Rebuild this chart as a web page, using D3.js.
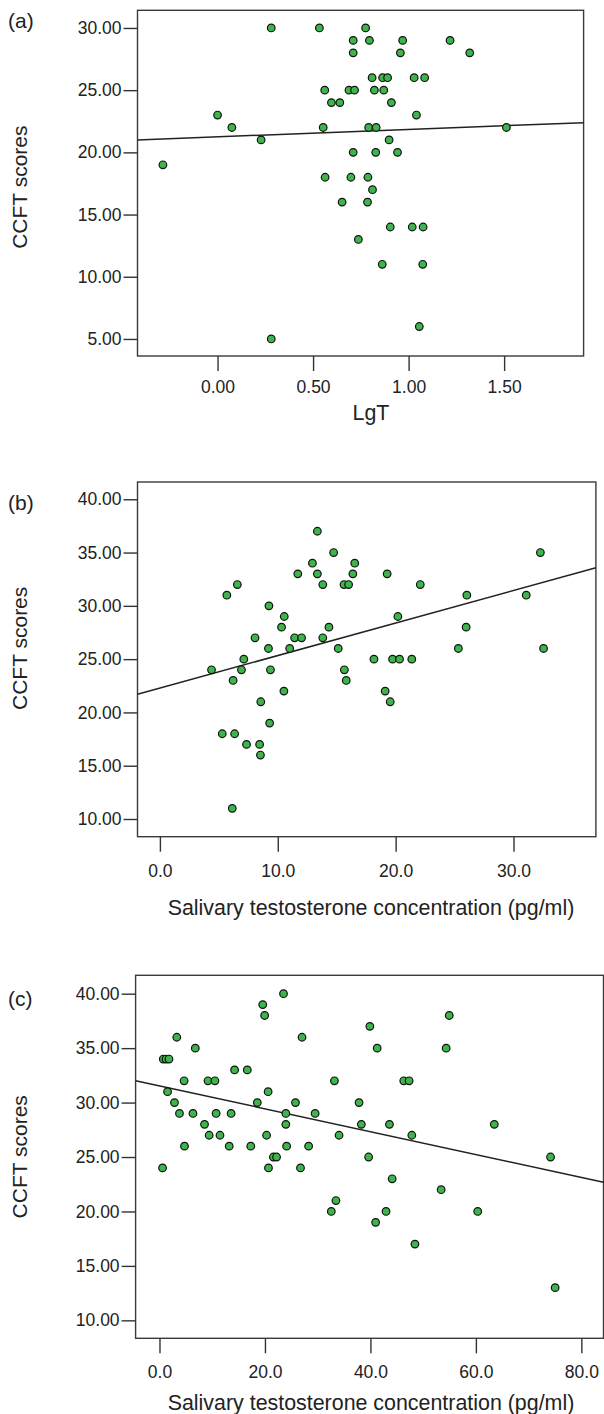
<!DOCTYPE html>
<html>
<head>
<meta charset="utf-8">
<script src="https://cdn.jsdelivr.net/npm/d3@7"></script>
<style>
  body { margin: 0; background: #fff; }
  svg { display: block; font-family: "Liberation Sans", Arial, sans-serif; }
</style>
</head>
<body>
<script>
// panel (a): LgT vs CCFT
var aX = [0.281, 0.533, 0.775, 0.710, 0.795, 0.969, 1.217, 0.710, 0.957, 1.320,
          0.809, 0.864, 0.890, 1.029, 1.084, 0.561, 0.688, 0.717, 0.821, 0.870,
          0.596, 0.640, 0.910, 0.000, 1.041, 0.075, 0.553, 0.791, 0.830, 1.512,
          0.228, 0.898, 0.710, 0.828, 0.942, -0.286, 0.563, 0.698, 0.787, 0.811,
          0.652, 0.785, 0.904, 1.019, 1.076, 0.737, 0.862, 1.074, 1.056, 0.281];
var aY = [30, 30, 30, 29, 29, 29, 29, 28, 28, 28,
          26, 26, 26, 26, 26, 25, 25, 25, 25, 25,
          24, 24, 24, 23, 23, 22, 22, 22, 22, 22,
          21, 21, 20, 20, 20, 19, 18, 18, 18, 17,
          16, 16, 14, 14, 14, 13, 11, 11, 6, 5];

// panel (b): salivary testosterone vs CCFT
var bX = [13.36, 14.74, 32.28, 12.94, 16.53, 11.70, 13.36, 16.37, 19.28, 6.57,
          13.82, 15.62, 16.01, 22.09, 5.68, 26.04, 31.08, 9.25, 10.55, 20.19,
          10.32, 14.34, 25.98, 8.07, 11.43, 12.02, 13.82, 9.21, 11.01, 15.13,
          25.32, 32.55, 7.12, 18.16, 19.74, 20.33, 21.37, 4.38, 6.92, 9.38,
          15.65, 6.21, 15.81, 10.52, 19.11, 8.56, 19.54, 9.31, 5.29, 6.34,
          7.35, 8.46, 8.53, 6.14];
var bY = [37, 35, 35, 34, 34, 33, 33, 33, 33, 32,
          32, 32, 32, 32, 31, 31, 31, 30, 29, 29,
          28, 28, 28, 27, 27, 27, 27, 26, 26, 26,
          26, 26, 25, 25, 25, 25, 25, 24, 24, 24,
          24, 23, 23, 22, 22, 21, 21, 19, 18, 18,
          17, 17, 16, 11];

// panel (c)
var cX = [23.52, 19.58, 19.94, 54.95, 39.89, 3.28, 27.03, 6.79, 41.28, 54.36,
          0.72, 1.25, 1.80, 14.24, 16.65, 4.67, 9.20, 10.51, 33.17, 46.32,
          47.34, 1.53, 20.60, 2.84, 18.55, 25.79, 37.84, 3.79, 6.35, 10.74,
          13.58, 23.96, 29.51, 8.54, 23.96, 38.28, 43.61, 63.49, 9.42, 11.47,
          20.31, 34.05, 47.85, 4.74, 13.22, 17.31, 24.11, 28.28, 21.6, 22.2,
          39.66, 74.16, 0.58, 20.67, 26.74, 44.12, 53.41, 33.46, 32.58, 42.96,
          60.35, 40.99, 48.44, 75.03];
var cY = [40, 39, 38, 38, 37, 36, 36, 35, 35, 35,
          34, 34, 34, 33, 33, 32, 32, 32, 32, 32,
          32, 31, 31, 30, 30, 30, 30, 29, 29, 29,
          29, 29, 29, 28, 28, 28, 28, 28, 27, 27,
          27, 27, 27, 26, 26, 26, 26, 26, 25, 25,
          25, 25, 24, 24, 24, 23, 22, 21, 20, 20,
          20, 19, 17, 13];

// fit lines: [intercept, slope]
var aFit = [21.25, 0.595];
var bFit = [22.28, 0.3055];
var cFit = [31.53, -0.105];

var aXTicks = [0, 0.5, 1, 1.5], aYTicks = [5, 10, 15, 20, 25, 30];
var bXTicks = [0, 10, 20, 30], bYTicks = [10, 15, 20, 25, 30, 35, 40];
var cXTicks = [0, 20, 40, 60, 80], cYTicks = [10, 15, 20, 25, 30, 35, 40];

var width = 604, height = 1414;

const svg = d3.select("body")
    .append("svg")
    .attr("width", width)
    .attr("height", height)
    .attr("viewBox", [0, 0, width, height]);

var panels = [
  {label: "(a)", xs: aX, ys: aY, fit: aFit, xt: aXTicks, yt: aYTicks, xfmt: ".2f",
   xtitle: "LgT", box: [137.5, 583.6, 10.3, 356], xdom: [-0.419, 1.916], ydom: [3.63, 31.42],
   pad: 10, titleOff: 64, labelOff: 0, yTitleOff: 4},
  {label: "(b)", xs: bX, ys: bY, fit: bFit, xt: bXTicks, yt: bYTicks, xfmt: ".1f",
   xtitle: "Salivary testosterone concentration (pg/ml)", box: [137.5, 595.9, 482, 836.7],
   xdom: [-1.90, 36.99], ydom: [8.34, 41.62], pad: 13, titleOff: 78, labelOff: 11, yTitleOff: -11},
  {label: "(c)", xs: cX, ys: cY, fit: cFit, xt: cXTicks, yt: cYTicks, xfmt: ".1f",
   xtitle: "Salivary testosterone concentration (pg/ml)", box: [135.6, 603.5, 975.3, 1338.3],
   xdom: [-4.53, 84.2], ydom: [8.35, 41.69], pad: 12, titleOff: 72, labelOff: 12, yTitleOff: 0}
];

panels.forEach(function(p, i) {
  var x0 = p.box[0], x1 = p.box[1], y0 = p.box[2], y1 = p.box[3];
  var xscale = d3.scaleLinear().domain(p.xdom).range([x0, x1]);
  var yscale = d3.scaleLinear().domain(p.ydom).range([y1, y0]);
  var g = svg.append("g");

  // frame
  g.append("rect")
      .attr("x", x0).attr("y", y0)
      .attr("width", x1 - x0).attr("height", y1 - y0)
      .attr("fill", "none")
      .attr("stroke", "#3a3a3a")
      .attr("stroke-width", 1.4);

  // y-axis
  g.append("g")
      .attr("transform", `translate(${x0},0)`)
      .call(d3.axisLeft(yscale).tickValues(p.yt).tickFormat(d3.format(".2f"))
            .tickSize(14).tickPadding(2))
      .call(g => g.select(".domain").remove())
      .call(g => g.selectAll("line").attr("stroke", "#333").attr("stroke-width", 1.4))
      .call(g => g.selectAll("text").attr("font-size", 17.5).attr("fill", "#222")
            .attr("font-family", "Liberation Sans, Arial, sans-serif"));

  // x-axis
  g.append("g")
      .attr("transform", `translate(0,${y1})`)
      .call(d3.axisBottom(xscale).tickValues(p.xt).tickFormat(d3.format(p.xfmt))
            .tickSize(15).tickPadding(p.pad))
      .call(g => g.select(".domain").remove())
      .call(g => g.selectAll("line").attr("stroke", "#333").attr("stroke-width", 1.4))
      .call(g => g.selectAll("text").attr("font-size", 17.5).attr("fill", "#222")
            .attr("font-family", "Liberation Sans, Arial, sans-serif"));

  // fit line
  var line = d3.line()
      .x(d => xscale(d))
      .y(d => yscale(p.fit[0] + p.fit[1] * d));
  g.append("path")
      .datum(p.xdom)
      .attr("fill", "none")
      .attr("stroke", "#222")
      .attr("stroke-width", 1.5)
      .attr("d", line);

  // points
  g.selectAll("circle")
      .data(p.xs)
      .join("circle")
      .attr("cx", d => xscale(d))
      .attr("cy", (d, j) => yscale(p.ys[j]))
      .attr("r", 3.8)
      .attr("fill", "#3db54a")
      .attr("stroke", "#111")
      .attr("stroke-width", 1.2);

  // titles
  g.append("text")
      .attr("x", 371)
      .attr("y", y1 + p.titleOff)
      .attr("text-anchor", "middle")
      .attr("font-size", 21.4)
      .attr("fill", "#222")
      .text(p.xtitle);

  g.append("text")
      .attr("transform", `translate(27,${(y0 + y1) / 2 + p.yTitleOff}) rotate(-90)`)
      .attr("text-anchor", "middle")
      .attr("font-size", 21)
      .attr("fill", "#222")
      .text("CCFT scores");

  g.append("text")
      .attr("x", 8)
      .attr("y", yscale(p.yt[p.yt.length - 1]) + p.labelOff)
      .attr("font-size", 21)
      .attr("fill", "#222")
      .text(p.label);
});
</script>
</body>
</html>
